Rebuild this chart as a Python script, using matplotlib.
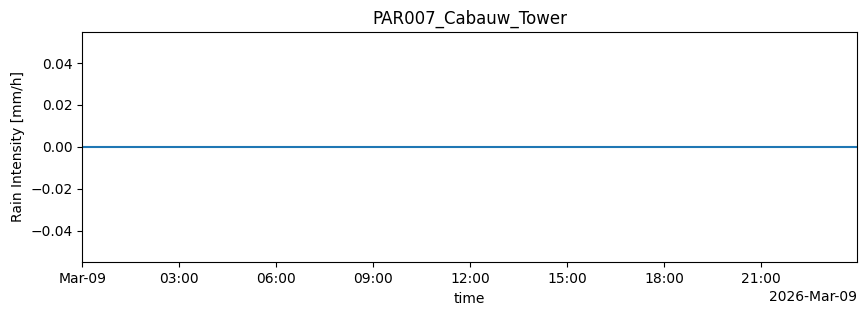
import numpy as np
import pandas as pd
import matplotlib
matplotlib.use("Agg")
import matplotlib.pyplot as plt
import matplotlib.dates as mdates

# data: rain intensity stays at zero all day
times = pd.to_datetime([
    "2026-03-09 00:00", "2026-03-09 03:00", "2026-03-09 06:00",
    "2026-03-09 09:00", "2026-03-09 12:00", "2026-03-09 15:00",
    "2026-03-09 18:00", "2026-03-09 21:00", "2026-03-09 23:59",
])
rain = [0.0, 0.0, 0.0, 0.0, 0.0, 0.0, 0.0, 0.0, 0.0]

station = "PAR007_Cabauw_Tower"

fig, ax = plt.subplots(figsize=(8.66, 3.16), dpi=100)
fig.subplots_adjust(left=0.095, right=0.99, top=0.9, bottom=0.17)

ax.plot(times, rain, color="tab:blue")
ax.set_xlim(times[0], times[-1])

locator = mdates.AutoDateLocator()
ax.xaxis.set_major_locator(locator)
ax.xaxis.set_major_formatter(mdates.ConciseDateFormatter(locator))

ax.set_title(station)
ax.set_xlabel("time")
ax.set_ylabel("Rain Intensity [mm/h]")

plt.savefig("out.png", dpi=100)
